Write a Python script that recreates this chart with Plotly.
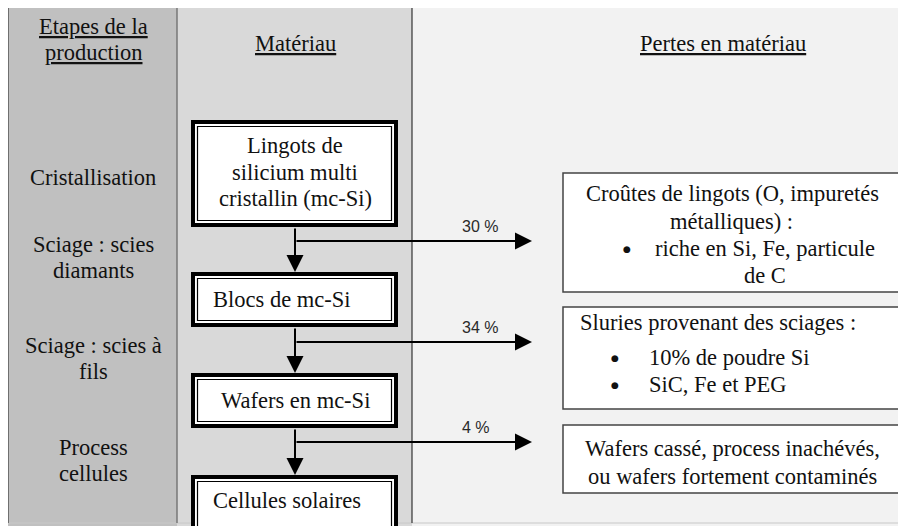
import plotly.graph_objects as go

# ---------------- data ----------------
headers = ["Etapes de la<br>production", "Matériau", "Pertes en matériau"]
stage_lines = [["Cristallisation"],
               ["Sciage : scies", "diamants"],
               ["Sciage : scies à", "fils"],
               ["Process", "cellules"]]
material_lines = [["Lingots de", "silicium multi", "cristallin (mc-Si)"],
                  ["Blocs de mc-Si"],
                  ["Wafers en mc-Si"],
                  ["Cellules solaires"]]
loss_pct = [30, 34, 4]
loss_a = ["Croûtes de lingots (O, impuretés", "métalliques) :"]
loss_a_bullet = ["riche en Si, Fe, particule", "de C"]
loss_b_title = "Sluries provenant des sciages :"
loss_b_bullets = ["10% de poudre Si", "SiC, Fe et PEG"]
loss_c = ["Wafers cassé, process inachévés,", "ou wafers fortement contaminés"]

# ---------------- layout constants ----------------
W, H = 906, 526
OFF = 8  # page body margin
SERIF = "Liberation Serif, Times New Roman, DejaVu Serif, serif"
FS = 22.5
TXT = "#111111"
LH = 26

col_x = [8, 177, 412, W]
col_fill = ["#c0c0c0", "#d9d9d9", "#f2f2f2"]
top_y, bot_y = 4, 523

stage_y = [177, 257, 358, 460]

box_l, box_r = 191, 398
box_cx = 295
box_top = [120, 272, 373, 475]
box_bot = [227, 327, 428, 560]
box_text_y = [[145, 172, 198], [299], [400], [500]]
box_align = ["center", "left", "center", "left"]
box_text_left = 211

branch_y = [241, 342, 442]
arrow_end_x = 532
pct_x = 460

lb_l, lb_r = 563, 900
loss_boxes = [(173, 292), (307, 409), (425, 493)]

shapes = []
ann = []

def text(x, y, s, size=FS, xanchor="center", font=SERIF, color=TXT):
    ann.append(dict(x=x, y=y, xref="x", yref="y", text=s, showarrow=False,
                    xanchor=xanchor, yanchor="middle",
                    font=dict(family=font, size=size, color=color)))

def bullet(x, y):
    text(x, y + 1, "●", size=9, font="DejaVu Sans, sans-serif")

# columns
for i in range(3):
    shapes.append(dict(type="rect", x0=col_x[i], x1=col_x[i + 1] + 10, y0=top_y, y1=bot_y + 3,
                       fillcolor=col_fill[i], line=dict(width=0), layer="below"))
shapes.append(dict(type="line", x0=col_x[0], x1=W + 10, y0=top_y, y1=top_y,
                   line=dict(color="#555555", width=1.5)))
shapes.append(dict(type="line", x0=col_x[0], x1=W + 10, y0=bot_y, y1=bot_y,
                   line=dict(color="#c8c8c8", width=1)))
shapes.append(dict(type="line", x0=col_x[0], x1=col_x[0], y0=top_y, y1=bot_y,
                   line=dict(color="#555555", width=1.5)))
shapes.append(dict(type="line", x0=col_x[1], x1=col_x[1], y0=top_y, y1=bot_y,
                   line=dict(color="#777777", width=1.5)))
shapes.append(dict(type="line", x0=col_x[2], x1=col_x[2], y0=top_y, y1=bot_y,
                   line=dict(color="#333333", width=1.2)))

# headers
text(93, 26, "<u>Etapes de la</u>")
text(93, 52, "<u>production</u>")
text(295, 43, "<u>" + headers[1] + "</u>")
text(723, 43, "<u>" + headers[2] + "</u>")

# stages
for lines, yc in zip(stage_lines, stage_y):
    n = len(lines)
    for k, s in enumerate(lines):
        text(93, yc + (k - (n - 1) / 2) * LH, s)

# material boxes
for i, lines in enumerate(material_lines):
    t, b = box_top[i], box_bot[i]
    shapes.append(dict(type="rect", x0=box_l + 2, x1=box_r - 2, y0=t + 2, y1=b - 2,
                       fillcolor="white", line=dict(color="black", width=4)))
    shapes.append(dict(type="rect", x0=box_l + 6.5, x1=box_r - 6.5, y0=t + 6.5, y1=b - 6.5,
                       fillcolor="white", line=dict(color="black", width=1.2)))
    for s, yy in zip(lines, box_text_y[i]):
        if box_align[i] == "center":
            text(box_cx, yy, s)
        else:
            text(box_text_left, yy, s, xanchor="left")

# vertical arrows and branches
for i in range(3):
    ann.append(dict(x=box_cx, y=box_top[i + 1], ax=box_cx, ay=box_bot[i],
                    xref="x", yref="y", axref="x", ayref="y", text="", showarrow=True,
                    arrowhead=2, arrowsize=1.7, arrowwidth=2, arrowcolor="black"))
    ann.append(dict(x=arrow_end_x, y=branch_y[i], ax=box_cx, ay=branch_y[i],
                    xref="x", yref="y", axref="x", ayref="y", text="", showarrow=True,
                    arrowhead=2, arrowsize=1.7, arrowwidth=2, arrowcolor="black"))
    text(pct_x, branch_y[i] - 15, f"{loss_pct[i]} %", size=16, xanchor="left",
         font="Liberation Sans, Arial, sans-serif", color="#2a2a2a")

# loss boxes
for (t, b) in loss_boxes:
    shapes.append(dict(type="rect", x0=lb_l, x1=lb_r, y0=t, y1=b, fillcolor="white",
                       line=dict(color="#444444", width=1.5)))

text(732, 193, loss_a[0])
text(731, 221, loss_a[1])
bullet(627, 248)
text(765, 248, loss_a_bullet[0])
text(765, 275, loss_a_bullet[1])

text(578, 322, loss_b_title, xanchor="left")
for s, yy in zip(loss_b_bullets, [357, 384]):
    bullet(615, yy)
    text(647, yy, s, xanchor="left")

text(732, 448, loss_c[0])
text(732, 476, loss_c[1])

fig = go.Figure()
fig.update_layout(
    width=W, height=H, margin=dict(l=0, r=0, t=0, b=0, pad=0),
    paper_bgcolor="white", plot_bgcolor="white",
    xaxis=dict(range=[OFF, W + OFF], visible=False, fixedrange=True),
    yaxis=dict(range=[H + OFF, OFF], visible=False, fixedrange=True),
    shapes=shapes, annotations=ann, showlegend=False,
)
fig.write_html("out.html")
